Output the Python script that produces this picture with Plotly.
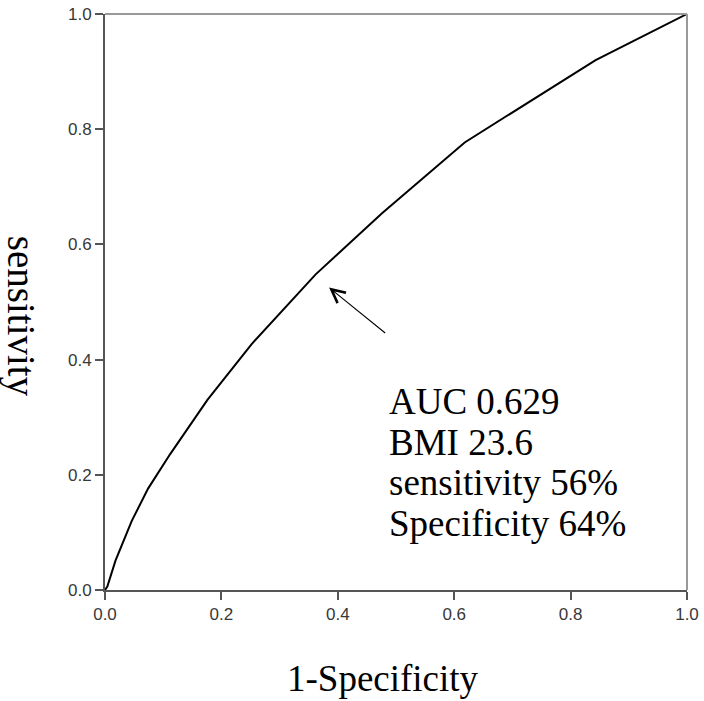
import plotly.graph_objects as go

# ROC curve (1-specificity, sensitivity)
fpr = [0.0, 0.004, 0.018, 0.046, 0.074, 0.112, 0.176, 0.252, 0.362, 0.476, 0.618, 0.738, 0.843, 1.0]
tpr = [0.0, 0.006, 0.051, 0.120, 0.176, 0.236, 0.330, 0.427, 0.548, 0.654, 0.777, 0.853, 0.920, 1.0]

tick_vals = [0.0, 0.2, 0.4, 0.6, 0.8, 1.0]
tick_text = ["0.0", "0.2", "0.4", "0.6", "0.8", "1.0"]

arrow_tip = (0.385, 0.525)
arrow_tail = (0.484, 0.444)

stats_lines = ["AUC 0.629", "BMI 23.6", "sensitivity 56%", "Specificity 64%"]
stats_y = [0.328, 0.256, 0.186, 0.116]

serif = "Liberation Serif, Times New Roman, serif"

fig = go.Figure()
fig.add_trace(go.Scatter(
    x=fpr, y=tpr, mode="lines",
    line=dict(color="black", width=2),
    showlegend=False, hoverinfo="skip",
))

axis_common = dict(
    range=[0, 1], tickvals=tick_vals, ticktext=tick_text,
    showgrid=False, zeroline=False,
    showline=True, linecolor="#555555", linewidth=2,
    ticks="outside", ticklen=8, tickwidth=2, tickcolor="#555555",
    ticklabeloverflow="allow",
    tickfont=dict(family="Liberation Sans, Arial, sans-serif", size=17, color="#383838"),
)
fig.update_xaxes(**axis_common)
fig.update_yaxes(**axis_common)

# lighter top / right frame
fig.add_shape(type="line", xref="paper", yref="paper", x0=0, x1=1, y0=1, y1=1,
              line=dict(color="#999999", width=2))
fig.add_shape(type="line", xref="paper", yref="paper", x0=1, x1=1, y0=0, y1=1,
              line=dict(color="#999999", width=2))

fig.add_annotation(
    x=arrow_tip[0], y=arrow_tip[1], ax=arrow_tail[0], ay=arrow_tail[1],
    xref="x", yref="y", axref="x", ayref="y", text="",
    showarrow=True, arrowhead=5, arrowsize=2.4, arrowwidth=1.1,
    arrowcolor="black", standoff=0,
)

for line, yy in zip(stats_lines, stats_y):
    fig.add_annotation(
        x=0.484, y=yy, xref="x", yref="y", text=line, showarrow=False,
        xanchor="left", yanchor="middle",
        font=dict(family=serif, size=37, color="black"),
    )

fig.add_annotation(
    x=0.477, y=-0.154, xref="paper", yref="paper", text="1-Specificity",
    showarrow=False, xanchor="center", yanchor="middle",
    font=dict(family=serif, size=37, color="black"),
)
fig.add_annotation(
    x=-0.145, y=0.475, xref="paper", yref="paper", text="sensitivity",
    showarrow=False, xanchor="center", yanchor="middle", textangle=90,
    font=dict(family=serif, size=39, color="black"),
)

fig.update_layout(
    width=704, height=701,
    margin=dict(l=105, r=14, t=5, b=111),
    paper_bgcolor="white", plot_bgcolor="white",
)

# page body margin would shift the 704x701 figure; drop it
fig.write_html(
    "out.html",
    config={"displayModeBar": False},
    post_script="document.body.style.margin='0';",
)
